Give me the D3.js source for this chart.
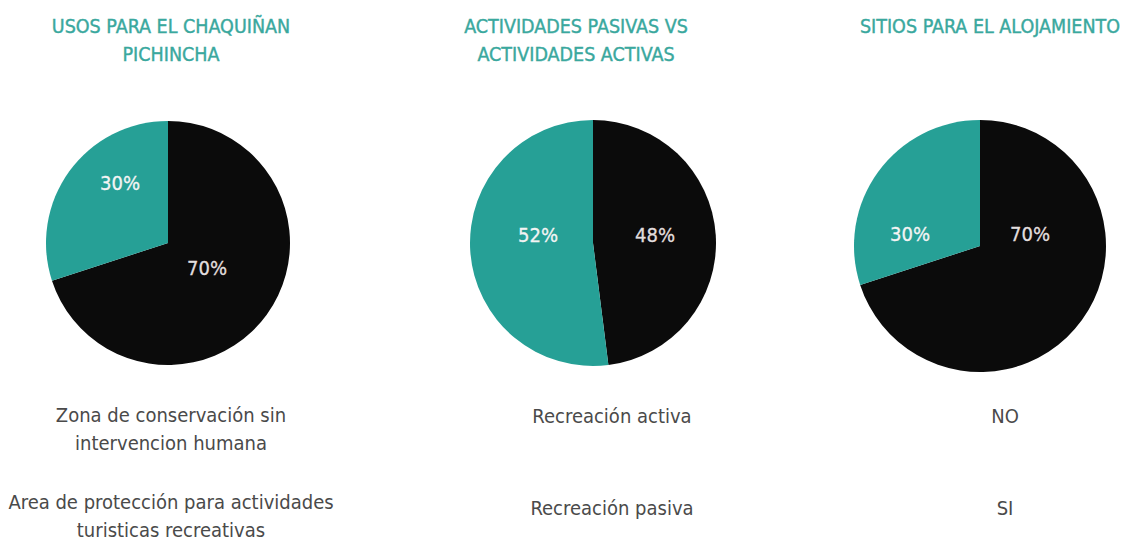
<!DOCTYPE html>
<html>
<head>
<meta charset="utf-8">
<script src="https://cdn.jsdelivr.net/npm/d3@7"></script>
<style>
  html, body { margin: 0; padding: 0; background: #ffffff; }
  svg { display: block; }
  .cond { font-family: "DejaVu Sans Condensed", "Liberation Sans Narrow", "Roboto", sans-serif; }
</style>
</head>
<body>
<svg id="chart" width="1126" height="545"></svg>
<script>
// ---- data ----
const titles = [
  ["USOS PARA EL CHAQUIÑAN", "PICHINCHA"],
  ["ACTIVIDADES PASIVAS VS", "ACTIVIDADES ACTIVAS"],
  ["SITIOS PARA EL ALOJAMIENTO"]
];
const seriesKeys = ["negro", "turquesa"];
const values1 = [70, 30];
const values2 = [48, 52];
const values3 = [70, 30];
const legend1 = [["Zona de conservación sin", "intervencion humana"], ["Area de protección para actividades", "turisticas recreativas"]];
const legend2 = [["Recreación activa"], ["Recreación pasiva"]];
const legend3 = [["NO"], ["SI"]];

// ---- layout ----
const layout = [
  { cx: 168, cy: 243, r: 122, titleX: 171, legendX: 171, legendY: [422, 509],
    labelOff: [[39, 25], [-48, -60]] },
  { cx: 593, cy: 243, r: 123, titleX: 576, legendX: 612, legendY: [423, 515],
    labelOff: [[62, -8], [-55, -8]] },
  { cx: 980, cy: 246, r: 126, titleX: 990, legendX: 1005, legendY: [423, 515],
    labelOff: [[50, -12], [-70, -12]] }
];
const colors = d3.scaleOrdinal().domain(seriesKeys).range(["#0b0b0b", "#26a096"]);
const labelColors = d3.scaleOrdinal().domain(seriesKeys).range(["#e2dede", "#f4f4f4"]);
const allValues = [values1, values2, values3];
const legends = [legend1, legend2, legend3];

const svg = d3.select("#chart");
const pie = d3.pie().sort(null).value(d => d.v);

allValues.forEach((vals, i) => {
  const L = layout[i];
  const data = vals.map((v, j) => ({ key: seriesKeys[j], v }));
  const arcs = pie(data);
  const arc = d3.arc().innerRadius(0).outerRadius(L.r);
  const g = svg.append("g").attr("transform", `translate(${L.cx},${L.cy})`);
  g.selectAll("path").data(arcs).join("path")
    .attr("d", arc)
    .attr("fill", d => colors(d.data.key));
  g.selectAll("text").data(arcs).join("text")
    .attr("class", "cond")
    .attr("x", (d, j) => L.labelOff[j][0])
    .attr("y", (d, j) => L.labelOff[j][1])
    .attr("text-anchor", "middle")
    .attr("dominant-baseline", "central")
    .attr("font-size", 20)
    .attr("fill", d => labelColors(d.data.key))
    .attr("stroke", d => labelColors(d.data.key))
    .attr("stroke-width", 0.3)
    .text(d => d.data.v + "%");

  // title
  const t = svg.append("text").attr("class", "cond")
    .attr("x", L.titleX).attr("y", 33)
    .attr("text-anchor", "middle")
    .attr("font-size", 19.5)
    .attr("fill", "#3aa89e")
    .attr("stroke", "#3aa89e")
    .attr("stroke-width", 0.4);
  titles[i].forEach((line, k) => {
    t.append("tspan").attr("x", L.titleX).attr("dy", k === 0 ? 0 : 28).text(line);
  });

  // legend text
  legends[i].forEach((item, k) => {
    const lt = svg.append("text").attr("class", "cond")
      .attr("x", L.legendX).attr("y", L.legendY[k])
      .attr("text-anchor", "middle")
      .attr("font-size", 20)
      .attr("fill", "#4a4a4a");
    item.forEach((line, m) => {
      lt.append("tspan").attr("x", L.legendX).attr("dy", m === 0 ? 0 : 28).text(line);
    });
  });
});
</script>
</body>
</html>
